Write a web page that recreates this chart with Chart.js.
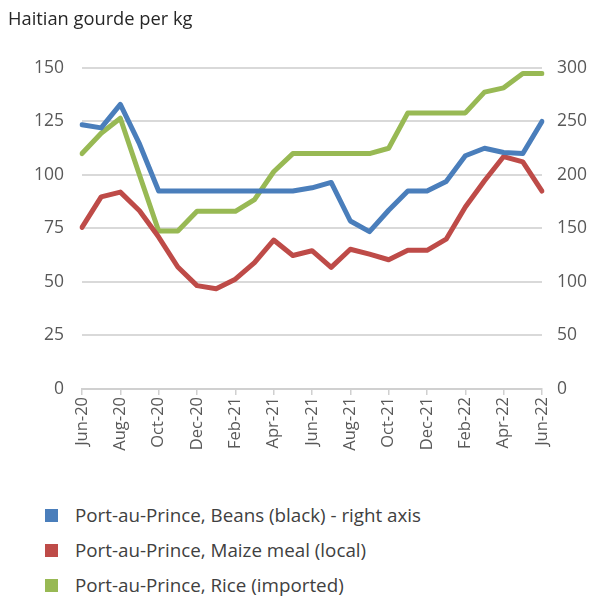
<!DOCTYPE html>
<html>
<head>
<meta charset="utf-8">
<script src="https://cdn.jsdelivr.net/npm/chart.js@4/dist/chart.umd.min.js"></script>
<style>
  body { margin: 0; background: #fff; font-family: "Open Sans", sans-serif; }
  #wrap { position: relative; width: 612px; height: 596px; }
  #c { position: absolute; left: 0; top: 0; }
  #legend { position: absolute; left: 45px; top: 503px; }
  .item { height: 35px; line-height: 24px; font-size: 18.8px; color: #404040; white-space: nowrap; }
  .box { display: inline-block; width: 13px; height: 13px; margin-right: 17px; vertical-align: 0px; }
</style>
</head>
<body>
<div id="wrap">
  <canvas id="c" width="612" height="470"></canvas>
  <div id="legend"></div>
</div>
<script>
var months = ['Jun-20', 'Jul-20', 'Aug-20', 'Sep-20', 'Oct-20', 'Nov-20', 'Dec-20', 'Jan-21', 'Feb-21', 'Mar-21', 'Apr-21', 'May-21',
    'Jun-21', 'Jul-21', 'Aug-21', 'Sep-21', 'Oct-21', 'Nov-21', 'Dec-21', 'Jan-22', 'Feb-22', 'Mar-22', 'Apr-22', 'May-22', 'Jun-22'];
// right axis
var beans = [247, 244, 266, 229, 185, 185, 185, 185, 185, 185, 185, 185, 188, 193, 157, 147, 167, 185, 185, 194, 218, 225, 221, 220, 250];
// left axis
var maize = [75.5, 89.8, 92, 83.3, 71, 57, 48.3, 46.8, 51.3, 59, 69.6, 62.4, 64.6, 56.8, 65.3, 63, 60.4, 64.8, 64.8, 70, 85, 97.3, 108.6, 106.1, 92.5];
var rice = [110, 119.5, 126.5, 100, 73.8, 73.8, 83, 83, 83, 88.5, 101.5, 110, 110, 110, 110, 110, 112.5, 129, 129, 129, 129, 138.7, 140.7, 147.4, 147.4];
var seriesNames = ['Port-au-Prince, Beans (black) - right axis', 'Port-au-Prince, Maize meal (local)', 'Port-au-Prince, Rice (imported)'];
var colors = ['#4a7ebb', '#be4b48', '#98b954'];

function ds(label, data, color, axis) {
    return {
        label: label,
        data: data,
        yAxisID: axis,
        borderColor: color,
        backgroundColor: color,
        borderWidth: 5,
        pointRadius: 0,
        tension: 0,
        borderJoinStyle: 'round',
        borderCapStyle: 'round'
    };
}

var tickFont = { family: 'Open Sans', size: 17.5 };

var chart = new Chart(document.getElementById('c'), {
    type: 'line',
    data: {
        labels: months,
        datasets: [
            ds(seriesNames[0], beans, colors[0], 'yR'),
            ds(seriesNames[1], maize, colors[1], 'yL'),
            ds(seriesNames[2], rice, colors[2], 'yL')
        ]
    },
    options: {
        responsive: false,
        animation: false,
        layout: { padding: { left: 8, right: 0, top: 0, bottom: 0 } },
        plugins: {
            legend: { display: false },
            tooltip: { enabled: false },
            title: {
                display: true,
                text: 'Haitian gourde per kg',
                align: 'start',
                color: '#262626',
                font: { family: 'Open Sans', size: 18.3, weight: 'normal' },
                padding: { top: 9, bottom: 37 }
            }
        },
        scales: {
            x: {
                offset: false,
                grid: {
                    drawOnChartArea: false,
                    drawTicks: true,
                    tickLength: 6,
                    color: function (ctx) { return ctx.index % 2 === 0 ? '#d0d0d0' : 'rgba(0,0,0,0)'; },
                    lineWidth: 1.5
                },
                border: { color: '#d0d0d0', width: 2 },
                ticks: {
                    autoSkip: false,
                    minRotation: 90,
                    maxRotation: 90,
                    padding: 2,
                    color: '#595959',
                    font: { family: 'Open Sans', size: 16.5 },
                    callback: function (v, i) { return i % 2 === 0 ? months[i] : ''; }
                },
                afterFit: function (s) { s.height = 81; }
            },
            yL: {
                position: 'left',
                min: 0,
                max: 150,
                ticks: { stepSize: 25, color: '#595959', font: tickFont, padding: 18 },
                grid: { color: '#d9d9d9', lineWidth: 2, drawTicks: false },
                border: { display: false },
                afterFit: function (s) { s.width = 74; }
            },
            yR: {
                position: 'right',
                min: 0,
                max: 300,
                ticks: { stepSize: 50, color: '#595959', font: tickFont, padding: 15 },
                grid: { drawOnChartArea: false, drawTicks: false },
                border: { display: false },
                afterFit: function (s) { s.width = 70; }
            }
        }
    }
});

var legend = document.getElementById('legend');
seriesNames.forEach(function (name, i) {
    var row = document.createElement('div');
    row.className = 'item';
    row.innerHTML = '<span class="box" style="background:' + colors[i] + '"></span>' + name;
    legend.appendChild(row);
});
</script>
</body>
</html>
